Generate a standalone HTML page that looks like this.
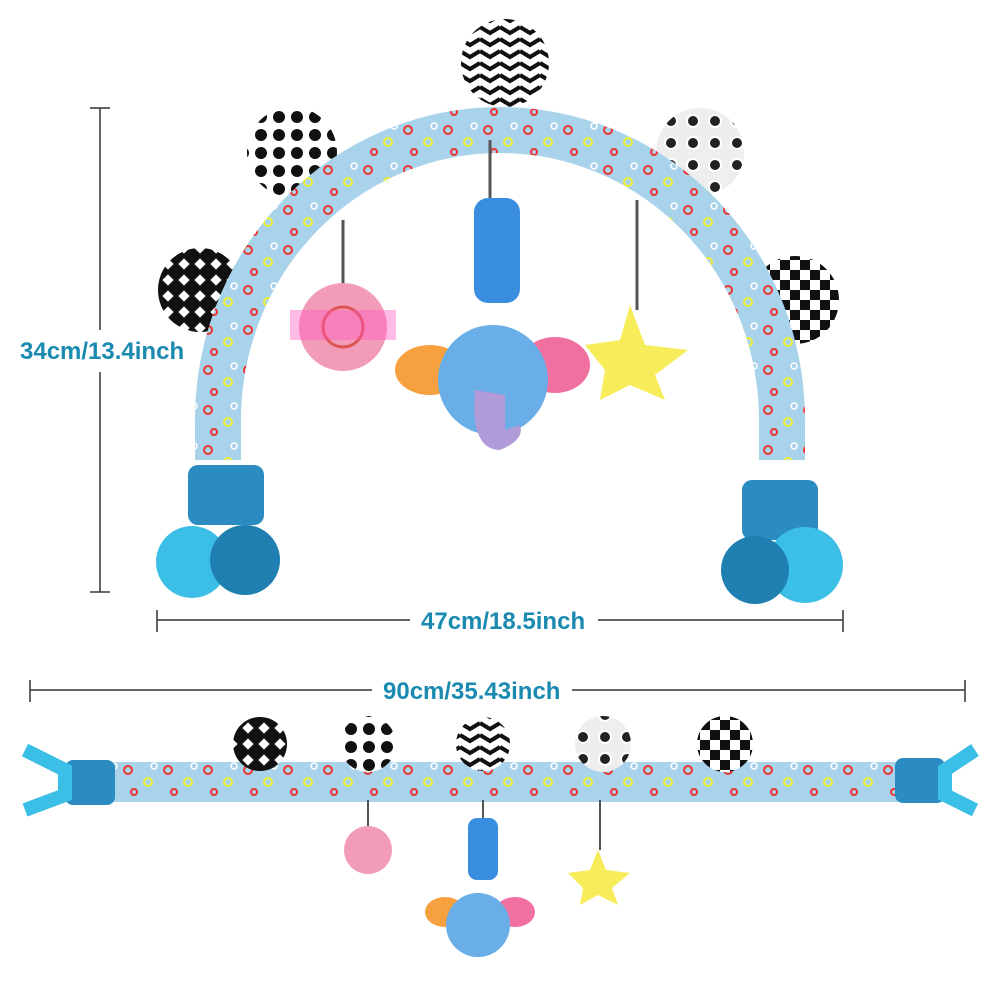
<!DOCTYPE html>
<html><head><meta charset="utf-8"><style>
html,body{margin:0;padding:0;background:#fff;}
svg{display:block}
text{font-family:"Liberation Sans",sans-serif;font-weight:bold;fill:#1a8ab0;font-size:24px}
</style></head><body>
<svg width="1000" height="1000" viewBox="0 0 1000 1000">
<defs>
<pattern id="dots" width="18" height="18" patternUnits="userSpaceOnUse"><rect width="18" height="18" fill="#fff"/><circle cx="9" cy="9" r="6" fill="#111"/></pattern>
<pattern id="chev" width="20" height="12" patternUnits="userSpaceOnUse"><rect width="20" height="12" fill="#fff"/><path d="M0 3 L10 9 L20 3" stroke="#111" stroke-width="4" fill="none"/></pattern>
<pattern id="check" width="20" height="20" patternUnits="userSpaceOnUse"><rect width="20" height="20" fill="#fff"/><rect width="10" height="10" fill="#111"/><rect x="10" y="10" width="10" height="10" fill="#111"/></pattern>
<pattern id="diam" width="16" height="16" patternUnits="userSpaceOnUse"><rect width="16" height="16" fill="#111"/><rect x="4" y="4" width="8" height="8" fill="#fff" transform="rotate(45 8 8)"/></pattern>
<pattern id="rings" width="22" height="22" patternUnits="userSpaceOnUse"><rect width="22" height="22" fill="#eee"/><circle cx="11" cy="11" r="6" fill="#222" stroke="#fff" stroke-width="2"/></pattern>
<pattern id="fab" width="40" height="40" patternUnits="userSpaceOnUse"><rect width="40" height="40" fill="#a9d3ea"/><circle cx="8" cy="10" r="4" fill="none" stroke="#e33" stroke-width="2"/><circle cx="28" cy="22" r="4" fill="none" stroke="#ee3" stroke-width="2"/><circle cx="14" cy="32" r="3" fill="none" stroke="#e33" stroke-width="2"/><circle cx="34" cy="6" r="3" fill="none" stroke="#fff" stroke-width="1.5"/></pattern>
</defs>
<g stroke="#333" stroke-width="1.5">
<line x1="100" y1="108" x2="100" y2="330"/><line x1="100" y1="372" x2="100" y2="592"/>
<line x1="90" y1="108" x2="110" y2="108"/><line x1="90" y1="592" x2="110" y2="592"/>
<line x1="157" y1="620" x2="410" y2="620"/><line x1="598" y1="620" x2="843" y2="620"/>
<line x1="157" y1="610" x2="157" y2="632"/><line x1="843" y1="610" x2="843" y2="632"/>
<line x1="30" y1="690" x2="372" y2="690"/><line x1="572" y1="690" x2="965" y2="690"/>
<line x1="30" y1="680" x2="30" y2="702"/><line x1="965" y1="680" x2="965" y2="702"/>
</g>
<text x="20" y="359">34cm/13.4inch</text>
<text x="421" y="629">47cm/18.5inch</text>
<text x="383" y="699">90cm/35.43inch</text>
<circle cx="505" cy="63" r="44" fill="url(#chev)"/>
<circle cx="292" cy="152" r="45" fill="url(#dots)"/>
<circle cx="700" cy="152" r="44" fill="url(#rings)"/>
<circle cx="200" cy="290" r="42" fill="url(#diam)"/>
<circle cx="795" cy="300" r="44" fill="url(#check)"/>
<path d="M218 460 L218 420 A282 290 0 0 1 782 420 L782 460" fill="none" stroke="url(#fab)" stroke-width="46"/>
<rect x="188" y="465" width="76" height="60" rx="10" fill="#2a8cc0"/>
<circle cx="192" cy="562" r="36" fill="#3cbfe6"/><circle cx="245" cy="560" r="35" fill="#1e7fb0"/>
<rect x="742" y="480" width="76" height="60" rx="10" fill="#2a8cc0"/>
<circle cx="805" cy="565" r="38" fill="#3cbfe6"/><circle cx="755" cy="570" r="34" fill="#1e7fb0"/>
<line x1="343" y1="220" x2="343" y2="285" stroke="#555" stroke-width="3"/>
<line x1="490" y1="140" x2="490" y2="200" stroke="#555" stroke-width="3"/>
<line x1="637" y1="200" x2="637" y2="310" stroke="#555" stroke-width="3"/>
<rect x="474" y="198" width="46" height="105" rx="14" fill="#3a8ee0"/>
<circle cx="343" cy="327" r="44" fill="#f39cba"/><circle cx="343" cy="327" r="20" fill="none" stroke="#d55" stroke-width="3"/>
<rect x="290" y="310" width="106" height="30" fill="#f5b" opacity=".4"/>
<ellipse cx="430" cy="370" rx="35" ry="25" fill="#f7a040"/><ellipse cx="555" cy="365" rx="35" ry="28" fill="#f070a0"/>
<circle cx="493" cy="380" r="55" fill="#6aaee8"/>
<path d="M475 390 Q470 450 500 450 Q525 440 520 425 L505 430 L505 395 Z" fill="#b09ad8"/>
<path d="M630 305 L645 345 L688 350 L655 375 L665 400 L630 385 L600 400 L605 370 L585 345 L620 340 Z" fill="#f7ec5a"/>
<rect x="110" y="762" width="790" height="40" fill="url(#fab)"/>
<circle cx="260" cy="744" r="27" fill="url(#diam)"/>
<circle cx="368" cy="744" r="28" fill="url(#dots)"/>
<circle cx="483" cy="744" r="27" fill="url(#chev)"/>
<circle cx="603" cy="744" r="28" fill="url(#rings)"/>
<circle cx="725" cy="744" r="28" fill="url(#check)"/>
<rect x="65" y="760" width="50" height="45" rx="8" fill="#2a8cc0"/>
<path d="M25 750 L65 770 L65 795 L25 810" fill="none" stroke="#3cbfe6" stroke-width="14"/>
<rect x="895" y="758" width="50" height="45" rx="8" fill="#2a8cc0"/>
<path d="M975 750 L945 770 L945 795 L975 810" fill="none" stroke="#3cbfe6" stroke-width="14"/>
<line x1="368" y1="800" x2="368" y2="830" stroke="#555" stroke-width="2"/>
<line x1="483" y1="800" x2="483" y2="820" stroke="#555" stroke-width="2"/>
<line x1="600" y1="800" x2="600" y2="850" stroke="#555" stroke-width="2"/>
<circle cx="368" cy="850" r="24" fill="#f39cba"/>
<rect x="468" y="818" width="30" height="62" rx="9" fill="#3a8ee0"/>
<ellipse cx="445" cy="912" rx="20" ry="15" fill="#f7a040"/><ellipse cx="515" cy="912" rx="20" ry="15" fill="#f070a0"/>
<circle cx="478" cy="925" r="32" fill="#6aaee8"/>
<path d="M598 850 L606 870 L630 873 L612 888 L618 905 L598 895 L580 905 L583 888 L568 873 L590 870 Z" fill="#f7ec5a"/>
</svg>
</body></html>
